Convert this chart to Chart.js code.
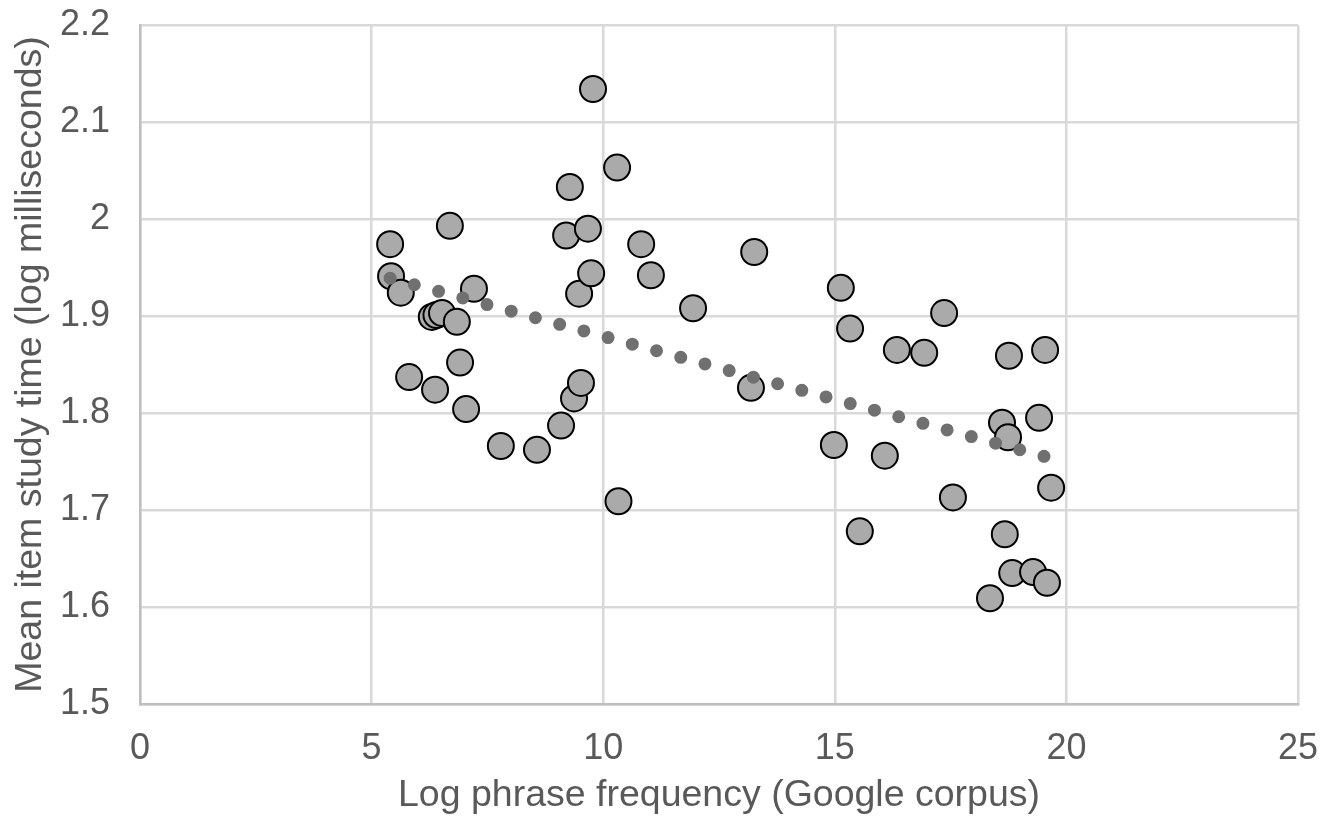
<!DOCTYPE html>
<html>
<head>
<meta charset="utf-8">
<script src="https://cdn.jsdelivr.net/npm/chart.js@4"></script>
<style>
  body { margin: 0; background: #fff; }
  #chart { display: block; }
</style>
</head>
<body>
<canvas id="chart" width="1337" height="824"></canvas>
<script>
// phrase frequency (x) and study time (y) for each item
const phraseFreq = [
  5.40, 5.42, 5.63, 5.81, 6.30, 6.40, 6.52, 6.84, 6.69, 7.21,
  6.91, 6.37, 7.04, 7.79, 8.57, 9.09, 9.37, 9.52, 9.48, 9.74,
  9.20, 9.67, 9.28, 10.30, 9.78, 10.82, 11.03, 10.33, 11.94, 13.26,
  13.19, 15.13, 15.33, 16.34, 16.93, 17.36, 18.76, 19.54, 14.98, 16.08,
  18.61, 18.74, 19.41, 17.55, 19.67, 18.67, 18.83, 19.28, 19.58, 18.35,
  15.54
];
const studyTime = [
  1.974, 1.941, 1.924, 1.837, 1.899, 1.901, 1.903, 1.894, 1.993, 1.928,
  1.852, 1.824, 1.804, 1.766, 1.762, 1.787, 1.815, 1.831, 1.923, 1.944,
  1.983, 1.990, 2.033, 2.053, 2.134, 1.974, 1.942, 1.709, 1.908, 1.966,
  1.826, 1.929, 1.887, 1.865, 1.862, 1.903, 1.859, 1.865, 1.767, 1.756,
  1.790, 1.775, 1.795, 1.713, 1.723, 1.675, 1.635, 1.636, 1.625, 1.609,
  1.678
];

// linear trendline ends
const trendX = [5.40, 19.54];
const trendY = [1.939, 1.755];

const xTicks = [0, 5, 10, 15, 20, 25];
const yTicks = [1.5, 1.6, 1.7, 1.8, 1.9, 2.0, 2.1, 2.2];

const textColor = '#595959';
const font = 'Arial, "Liberation Sans", sans-serif';

const points = phraseFreq.map((x, i) => ({ x: x, y: studyTime[i] }));
const trend = trendX.map((x, i) => ({ x: x, y: trendY[i] }));

new Chart(document.getElementById('chart'), {
  type: 'scatter',
  data: {
    datasets: [
      {
        label: 'Trend',
        data: trend,
        showLine: true,
        order: 0,
        borderColor: '#707070',
        borderWidth: 13,
        borderDash: [0, 25.1],
        borderCapStyle: 'round',
        pointRadius: 0
      },
      {
        label: 'Items',
        data: points,
        order: 1,
        backgroundColor: '#aaaaaa',
        borderColor: '#000000',
        borderWidth: 2,
        pointRadius: 13
      }
    ]
  },
  options: {
    responsive: false,
    animation: false,
    layout: { padding: { left: 8, right: 0, top: 0, bottom: 6 } },
    plugins: {
      legend: { display: false },
      tooltip: { enabled: false }
    },
    scales: {
      x: {
        type: 'linear',
        min: 0,
        max: 25,
        afterBuildTicks: s => { s.ticks = xTicks.map(v => ({ value: v })); },
        afterFit: s => { s.height = 114; s.paddingRight = 39; },
        grid: { color: '#d9d9d9', lineWidth: 2.5, drawTicks: false },
        border: { color: '#bfbfbf', width: 2.5 },
        ticks: {
          color: textColor,
          padding: 23,
          font: { family: font, size: 36 }
        },
        title: {
          display: true,
          text: 'Log phrase frequency (Google corpus)',
          color: textColor,
          padding: { top: 10, bottom: 0 },
          font: { family: font, size: 37.5 }
        }
      },
      y: {
        type: 'linear',
        min: 1.5,
        max: 2.2,
        afterBuildTicks: s => { s.ticks = yTicks.map(v => ({ value: v })); },
        afterFit: s => { s.width = 132; s.paddingTop = 25; },
        grid: { color: '#d9d9d9', lineWidth: 2.5, drawTicks: false },
        border: { color: '#bfbfbf', width: 2.5 },
        ticks: {
          color: textColor,
          padding: 30,
          font: { family: font, size: 36 },
          callback: v => v === 2 ? '2' : v.toFixed(1)
        },
        title: {
          display: true,
          text: 'Mean item study time (log milliseconds)',
          color: textColor,
          padding: { top: 0, bottom: 4 },
          font: { family: font, size: 37.5 }
        }
      }
    }
  }
});
</script>
</body>
</html>
